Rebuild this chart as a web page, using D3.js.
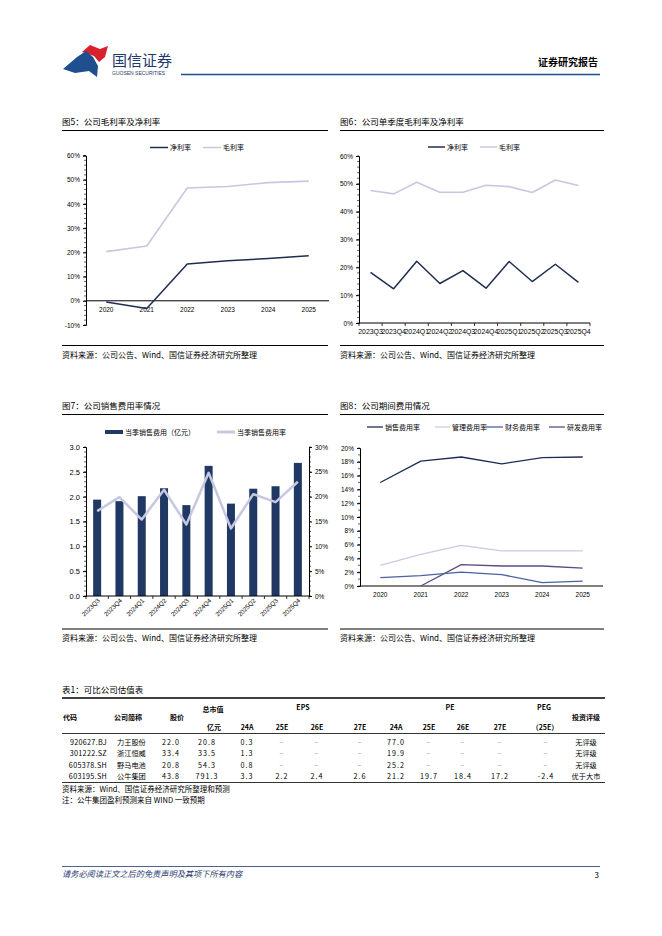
<!DOCTYPE html>
<html>
<head>
<meta charset="utf-8">
<script src="https://cdn.jsdelivr.net/npm/d3@7"></script>
<style>
  body { margin: 0; background: #fff; }
  svg { display: block; font-family: "Noto Sans CJK SC", "Noto Sans", sans-serif; }
</style>
</head>
<body>
<script>
// ---- data ----
var years = ["2020", "2021", "2022", "2023", "2024", "2025"];
var netMarginY = [-0.5, -3.2, 15.2, 16.5, 17.5, 18.6];
var grossMarginY = [20.3, 22.6, 46.6, 47.2, 48.8, 49.4];

var quarters = ["2023Q3", "2023Q4", "2024Q1", "2024Q2", "2024Q3", "2024Q4", "2025Q1", "2025Q2", "2025Q3", "2025Q4"];
var netMarginQ = [18.2, 12.3, 22.2, 14.2, 18.8, 12.5, 22.1, 14.9, 21.1, 14.6];
var grossMarginQ = [47.6, 46.4, 50.6, 47.0, 47.0, 49.5, 49.0, 46.9, 51.4, 49.4];

var salesExpQ = [1.94, 1.91, 2.01, 2.17, 1.83, 2.62, 1.86, 2.16, 2.21, 2.68];
var salesRateQ = [17.1, 19.9, 15.4, 21.4, 14.4, 24.8, 13.6, 20.5, 18.9, 23.0];

var sellRate = [15.0, 18.1, 18.7, 17.7, 18.6, 18.7];
var adminRate = [3.0, 4.6, 5.9, 5.1, 5.1, 5.1];
var finRate = [1.2, 1.5, 2.0, 1.65, 0.5, 0.7];
var rdRate = [null, 0.0, 3.1, 2.9, 2.9, 2.6];

var tCodes = ["920627.BJ", "301222.SZ", "605378.SH", "603195.SH"];
var tNames = ["力王股份", "浙江恒威", "野马电池", "公牛集团"];
var tPrice = ["22.0", "33.4", "20.8", "43.8"];
var tCap = ["20.8", "33.5", "54.3", "791.3"];
var tEps = [["0.3", "–", "–", "–"], ["1.3", "–", "–", "–"], ["0.8", "–", "–", "–"], ["3.3", "2.2", "2.4", "2.6"]];
var tPe = [["77.0", "–", "–", "–"], ["19.9", "–", "–", "–"], ["25.2", "–", "–", "–"], ["21.2", "19.7", "18.4", "17.2"]];
var tPeg = ["–", "–", "–", "-2.4"];
var tRating = ["无评级", "无评级", "无评级", "优于大市"];

var navy = "#1f2d4f", lav = "#c6c8e0", barNavy = "#1f3864";

var svg = d3.select("body").append("svg").attr("width", 662).attr("height", 936);

// ---- page header ----
svg.append("path").attr("d", "M82,52 L90,45 L100,49 L108,46 L105,57 L99,62 L94,56 Z").attr("fill", "#d7212f");
svg.append("path").attr("d", "M63,69 L77,57 L86,51 L93,57 L98,66 L97,77 L89,71 L75,73 Z").attr("fill", "#1f4f8f");
svg.append("text").attr("x", 112).attr("y", 66).attr("font-size", 15).attr("fill", "#1f3a6e").text("国信证券");
svg.append("text").attr("x", 112).attr("y", 75).attr("font-size", 5).attr("fill", "#1f3a6e").attr("font-family", "Liberation Sans").text("GUOSEN SECURITIES");
svg.append("line").attr("x1", 181).attr("x2", 600).attr("y1", 74.5).attr("y2", 74.5).attr("stroke", "#1f4e8c").attr("stroke-width", 1.6);
svg.append("text").attr("x", 598).attr("y", 66).attr("text-anchor", "end").attr("font-size", 10).attr("font-weight", "bold").text("证券研究报告");

// ---- footer ----
svg.append("line").attr("x1", 62).attr("x2", 600).attr("y1", 866.5).attr("y2", 866.5).attr("stroke", "#1f3a6e").attr("stroke-width", 0.8);
svg.append("text").attr("x", 62).attr("y", 877).attr("font-size", 8.2).attr("font-style", "italic").attr("fill", "#1f3a6e").text("请务必阅读正文之后的免责声明及其项下所有内容");
svg.append("text").attr("x", 599).attr("y", 878).attr("text-anchor", "end").attr("font-size", 8).text("3");

// chart frame: title, rules and source line
function frame(x0, x1, title, titleY, ruleY, srcLineY, srcY) {
  svg.append("text").attr("x", x0).attr("y", titleY).attr("font-size", 8.5).text(title);
  svg.append("line").attr("x1", x0).attr("x2", x1).attr("y1", ruleY).attr("y2", ruleY).attr("stroke", "#000").attr("stroke-width", 1);
  svg.append("line").attr("x1", x0).attr("x2", x1).attr("y1", srcLineY).attr("y2", srcLineY).attr("stroke", "#000").attr("stroke-width", 1);
  svg.append("text").attr("x", x0).attr("y", srcY).attr("font-size", 8).text("资料来源：公司公告、Wind、国信证券经济研究所整理");
}

function legendLine(x, y, color, label, w, sw) {
  svg.append("line").attr("x1", x).attr("x2", x + w).attr("y1", y).attr("y2", y).attr("stroke", color).attr("stroke-width", sw || 1.5);
  svg.append("text").attr("x", x + w + 2).attr("y", y + 2.5).attr("font-size", 7).text(label);
}

function yAxisLeft(x, y, ticks, fmt, minorStep, fs) {
  var g = svg.append("g").attr("transform", "translate(" + x + ",0)");
  var ax = d3.axisLeft(y).tickValues(ticks).tickFormat(fmt).tickSize(3).tickPadding(3);
  g.call(ax);
  g.select(".domain").attr("stroke", "#000");
  g.selectAll("text").attr("font-size", fs || 6.5).attr("font-family", "Liberation Sans");
  var d = y.domain();
  var minors = d3.range(d[0], d[1] + minorStep / 2, minorStep);
  g.selectAll(".mn").data(minors).join("line").attr("class", "mn")
    .attr("x1", -2).attr("x2", 0).attr("y1", function (v) { return y(v); }).attr("y2", function (v) { return y(v); })
    .attr("stroke", "#000").attr("stroke-width", 0.6);
  return g;
}

function xBand(y0, x, labelY, labels, ticks, fs) {
  var g = svg.append("g");
  var r = x.range();
  g.append("line").attr("x1", r[0]).attr("x2", r[1]).attr("y1", y0).attr("y2", y0).attr("stroke", "#000").attr("stroke-width", 1);
  if (ticks) {
    var edges = labels.map(function (c) { return x(c); }).concat([r[1]]);
    g.selectAll(".tk").data(edges).join("line").attr("x1", function (v) { return v; }).attr("x2", function (v) { return v; })
      .attr("y1", y0).attr("y2", y0 + 3).attr("stroke", "#000").attr("stroke-width", 0.8);
  }
  if (labelY) {
    g.selectAll(".lb").data(labels).join("text").attr("x", function (c) { return x(c) + x.bandwidth() / 2; })
      .attr("y", labelY).attr("text-anchor", "middle").attr("font-size", fs || 6.5).attr("font-family", "Liberation Sans").text(function (c) { return c; });
  }
}

function drawLine(x, y, cats, vals, color, sw) {
  var line = d3.line().defined(function (d) { return d[1] !== null; })
    .x(function (d) { return x(d[0]) + x.bandwidth() / 2; }).y(function (d) { return y(d[1]); });
  svg.append("path").datum(cats.map(function (c, i) { return [c, vals[i]]; }))
    .attr("d", line).attr("fill", "none").attr("stroke", color).attr("stroke-width", sw).attr("stroke-linejoin", "round");
}

var pct = function (v) { return v + "%"; };

// ---- 图5 ----
frame(62, 328, "图5：公司毛利率及净利率", 125, 130.5, 345.5, 358);
legendLine(150, 147.5, navy, "净利率", 18);
legendLine(203, 147.5, lav, "毛利率", 18);
var x5 = d3.scaleBand().domain(years).range([86, 329]);
var y5 = d3.scaleLinear().domain([-10, 60]).range([325, 155.5]);
yAxisLeft(86, y5, d3.range(-10, 61, 10), pct, 2);
xBand(y5(0), x5, 312, years, false);
drawLine(x5, y5, years, grossMarginY, lav, 1.6);
drawLine(x5, y5, years, netMarginY, navy, 1.5);

// ---- 图6 ----
frame(340, 604, "图6：公司单季度毛利率及净利率", 125, 130.5, 345.5, 358);
legendLine(428, 147, navy, "净利率", 17);
legendLine(480, 147, lav, "毛利率", 17);
var x6 = d3.scaleBand().domain(quarters).range([359, 590]);
var y6 = d3.scaleLinear().domain([0, 60]).range([323, 156]);
yAxisLeft(359, y6, d3.range(0, 61, 10), pct, 2);
xBand(323, x6, 333.5, quarters, true, 6.9);
drawLine(x6, y6, quarters, grossMarginQ, lav, 1.6);
drawLine(x6, y6, quarters, netMarginQ, navy, 1.5);

// ---- 图7 ----
frame(62, 328, "图7：公司销售费用率情况", 409, 414.5, 629, 641);
svg.append("rect").attr("x", 105).attr("y", 430).attr("width", 18).attr("height", 4).attr("fill", barNavy);
svg.append("text").attr("x", 125).attr("y", 434.5).attr("font-size", 7).text("当季销售费用（亿元）");
legendLine(217, 432, lav, "当季销售费用率", 18, 3);
var x7 = d3.scaleBand().domain(quarters).range([86, 309]);
var y7 = d3.scaleLinear().domain([0, 3]).range([596, 447]);
var y7r = d3.scaleLinear().domain([0, 30]).range([596, 447]);
yAxisLeft(86, y7, d3.range(0, 3.01, 0.5), d3.format(".1f"), 0.1, 7.5);
var gr = svg.append("g").attr("transform", "translate(309,0)");
gr.call(d3.axisRight(y7r).tickValues(d3.range(0, 31, 5)).tickFormat(pct).tickSize(3).tickPadding(3));
gr.select(".domain").attr("stroke", "#000");
gr.selectAll("text").attr("font-size", 6.5).attr("font-family", "Liberation Sans");
gr.selectAll(".mn").data(d3.range(0, 31, 1)).join("line").attr("class", "mn")
  .attr("x1", 0).attr("x2", 2).attr("y1", function (v) { return y7r(v); }).attr("y2", function (v) { return y7r(v); })
  .attr("stroke", "#000").attr("stroke-width", 0.6);
svg.selectAll(".bar7").data(quarters).join("rect").attr("class", "bar7")
  .attr("x", function (c) { return x7(c) + x7.bandwidth() / 2 - 4; })
  .attr("width", 8)
  .attr("y", function (c, i) { return y7(salesExpQ[i]); })
  .attr("height", function (c, i) { return y7(0) - y7(salesExpQ[i]); })
  .attr("fill", barNavy);
xBand(596, x7, null, quarters, true);
svg.selectAll(".xl7").data(quarters).join("text").attr("class", "xl7")
  .attr("transform", function (c) { return "translate(" + (x7(c) + x7.bandwidth() / 2 + 3) + ",601) rotate(-45)"; })
  .attr("text-anchor", "end").attr("font-size", 6.3).attr("font-family", "Liberation Sans").text(function (c) { return c; });
drawLine(x7, y7r, quarters, salesRateQ, lav, 2.5);

// ---- 图8 ----
frame(340, 604, "图8：公司期间费用情况", 409, 414.5, 629, 641);
legendLine(367, 427, "#1f2d55", "销售费用率", 16, 1.3);
legendLine(435, 427, "#c9cbe3", "管理费用率", 15, 1.3);
legendLine(486, 427, "#4a62a0", "财务费用率", 17, 1.3);
legendLine(549, 427, "#5e4b80", "研发费用率", 16, 1.3);
var x8 = d3.scaleBand().domain(years).range([360, 603]);
var y8 = d3.scaleLinear().domain([0, 20]).range([586, 448]);
yAxisLeft(360, y8, d3.range(0, 21, 2), pct, 1);
xBand(586, x8, 597, years, false);
drawLine(x8, y8, years, adminRate, "#c9cbe3", 1.3);
drawLine(x8, y8, years, rdRate, "#5e4b80", 1.3);
drawLine(x8, y8, years, finRate, "#4a62a0", 1.3);
drawLine(x8, y8, years, sellRate, "#1f2d55", 1.4);

// ---- 表1 ----
svg.append("text").attr("x", 62).attr("y", 693).attr("font-size", 8.5).text("表1：可比公司估值表");
svg.append("line").attr("x1", 62).attr("x2", 605).attr("y1", 698).attr("y2", 698).attr("stroke", "#000").attr("stroke-width", 1.5);
svg.append("line").attr("x1", 62).attr("x2", 605).attr("y1", 733.5).attr("y2", 733.5).attr("stroke", "#000").attr("stroke-width", 0.8);
svg.append("line").attr("x1", 62).attr("x2", 605).attr("y1", 782.5).attr("y2", 782.5).attr("stroke", "#000").attr("stroke-width", 0.8);

function hdr(x, y, t, anchor) {
  svg.append("text").attr("x", x).attr("y", y).attr("text-anchor", anchor || "middle").attr("font-size", 7).attr("font-weight", "bold").text(t);
}
hdr(63, 720, "代码", "start");
hdr(128, 720, "公司简称");
hdr(177, 720, "股价");
hdr(213, 712, "总市值");
hdr(214, 729.5, "亿元");
hdr(303, 710, "EPS");
hdr(450, 710, "PE");
hdr(544, 710, "PEG");
hdr(545, 729.5, "（25E）");
hdr(586, 720, "投资评级");
var subX = [247, 282, 317, 360, 396, 429, 463, 500];
var subT = ["24A", "25E", "26E", "27E", "24A", "25E", "26E", "27E"];
subT.forEach(function (t, i) { hdr(subX[i], 729.5, t); });

var rowY = [744.5, 756, 767.5, 779];
function cell(x, y, t, anchor, col, ls) {
  svg.append("text").attr("x", x).attr("y", y).attr("text-anchor", anchor || "middle").attr("font-size", 7.2)
    .attr("letter-spacing", ls || 0).attr("fill", col || "#000").text(t);
}
tCodes.forEach(function (c, i) {
  var y = rowY[i];
  cell(107, y, c, "end", "#000", 0.3);
  cell(117, y, tNames[i], "start");
  cell(162, y, tPrice[i], "start", "#000", 1);
  cell(207, y, tCap[i], "middle", "#000", 1);
  tEps[i].forEach(function (v, j) { cell(subX[j], y, v, "middle", v === "–" ? "#888" : "#000", 1); });
  tPe[i].forEach(function (v, j) { cell(subX[j + 4], y, v, "middle", v === "–" ? "#888" : "#000", 1); });
  cell(546, y, tPeg[i], "middle", tPeg[i] === "–" ? "#888" : "#000", 1);
  cell(586, y, tRating[i]);
});
svg.append("text").attr("x", 62).attr("y", 792).attr("font-size", 7.5).text("资料来源：Wind、国信证券经济研究所整理和预测");
svg.append("text").attr("x", 62).attr("y", 803).attr("font-size", 7.5).text("注：公牛集团盈利预测来自 WIND 一致预期");
</script>
</body>
</html>
